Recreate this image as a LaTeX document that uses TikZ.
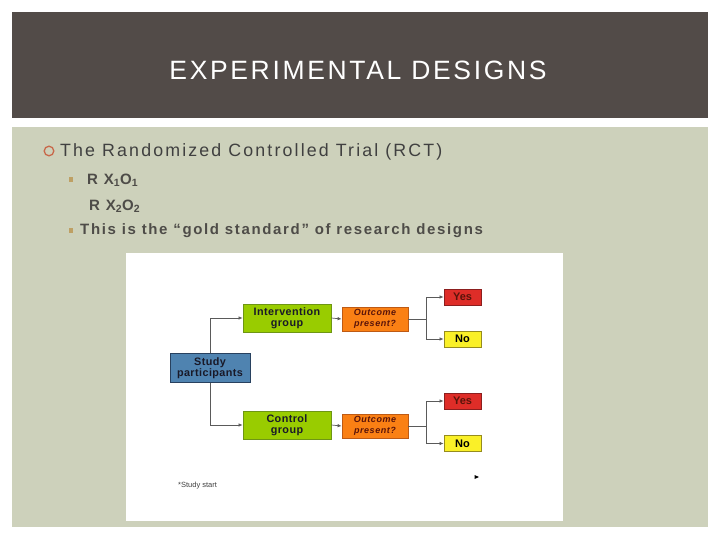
\documentclass[tikz,border=0pt]{standalone}
\usepackage{fontspec}
\setmainfont{Liberation Sans}
\newfontfamily\titlefont[LetterSpace=10]{Liberation Sans}
\newfontfamily\bodyfont[LetterSpace=12]{Liberation Sans}
\newfontfamily\subfont[LetterSpace=11]{Liberation Sans}
\newfontfamily\dfont[LetterSpace=4]{Liberation Sans}
\newfontfamily\ofont[LetterSpace=6]{Liberation Sans}
\usetikzlibrary{arrows.meta}
\definecolor{hdr}{RGB}{82,75,72}
\definecolor{content}{RGB}{205,209,187}
\definecolor{txt}{RGB}{64,64,64}
\definecolor{subtxt}{RGB}{78,76,72}
\definecolor{circbul}{RGB}{200,105,75}
\definecolor{sqbul}{RGB}{190,160,100}
\definecolor{bluebox}{RGB}{79,131,176}
\definecolor{blueedge}{RGB}{40,65,95}
\definecolor{greenbox}{RGB}{153,204,0}
\definecolor{greenedge}{RGB}{110,150,20}
\definecolor{orangebox}{RGB}{250,128,20}
\definecolor{orangeedge}{RGB}{190,90,20}
\definecolor{redbox}{RGB}{222,45,40}
\definecolor{rededge}{RGB}{140,30,30}
\definecolor{yellowbox}{RGB}{250,240,40}
\definecolor{yellowedge}{RGB}{150,140,30}
\definecolor{maroon}{RGB}{90,20,10}
\definecolor{boxtxt}{RGB}{25,25,40}
\definecolor{conn}{RGB}{90,90,90}
\begin{document}
\begin{tikzpicture}[x=1pt,y=-1pt,
  titlestyle/.style={text=white,font=\titlefont\fontsize{26.5}{30}\selectfont,inner sep=0},
  bodytext/.style={text=txt,anchor=west,inner sep=0,font=\bodyfont\fontsize{17.8}{20}\selectfont},
  subtext/.style={text=subtxt,anchor=west,inner sep=0,font=\subfont\bfseries\fontsize{15}{18}\selectfont},
  boxbase/.style={rectangle,line width=0.8pt,inner sep=0,align=center,
    font=\dfont\bfseries\fontsize{10.8}{11.5}\selectfont},
  studybox/.style={boxbase,fill=bluebox,draw=blueedge,minimum width=80,minimum height=29,text=boxtxt},
  groupbox/.style={boxbase,fill=greenbox,draw=greenedge,minimum width=88,minimum height=28,text=boxtxt},
  outbox/.style={boxbase,fill=orangebox,draw=orangeedge,minimum width=66,minimum height=24,text=maroon,
    font=\ofont\bfseries\itshape\fontsize{9}{10.5}\selectfont},
  yesbox/.style={boxbase,fill=redbox,draw=rededge,minimum width=37,minimum height=16,text=maroon,
    font=\bfseries\fontsize{11}{12}\selectfont},
  nobox/.style={boxbase,fill=yellowbox,draw=yellowedge,minimum width=37,minimum height=16,text=black,
    font=\bfseries\fontsize{11}{12}\selectfont},
  connector/.style={draw=conn,line width=0.7pt},
  arrowconn/.style={connector,-{Latex[length=4,width=3.5]}}
]
\useasboundingbox (0,0) rectangle (720,540);
\fill[white] (0,0) rectangle (720,540);
\fill[hdr] (12,12) rectangle (708,118);
\fill[content] (12,127) rectangle (708,527);
\node[titlestyle] (title) at (358,70) {EXPERIMENTAL DESIGNS};

% bullets
\draw[circbul,line width=1.3pt] (49,151) circle (4.8);
\node[bodytext] (rct) at (60,152) {The Randomized Controlled Trial (RCT)};
\fill[sqbul] (69,177) rectangle (73,182);
\node[subtext] (r1) at (87,180) {R X\textsubscript{1}O\textsubscript{1}};
\node[subtext] (r2) at (89,206) {R X\textsubscript{2}O\textsubscript{2}};
\fill[sqbul] (69,228) rectangle (73,233);
\node[subtext] (gold) at (80,231) {This is the “gold standard” of research designs};

% picture area
\fill[white] (126,253) rectangle (563,521);

\node[studybox] (study) at (210,368) {Study\\participants};
\node[groupbox] (interv) at (287,318) {Intervention\\group};
\node[groupbox] (control) at (287,425) {Control\\group};
\node[outbox] (out1) at (375,319) {Outcome\\present?};
\node[outbox] (out2) at (375,426) {Outcome\\present?};
\node[yesbox] (yes1) at (462.5,297) {Yes};
\node[nobox] (no1) at (462.5,339) {No};
\node[yesbox] (yes2) at (462.5,401) {Yes};
\node[nobox] (no2) at (462.5,443.5) {No};

\draw[arrowconn] (study.north) |- (interv.west);
\draw[arrowconn] (study.south) |- (control.west);
\draw[arrowconn] (interv.east) -- (out1.west);
\draw[arrowconn] (control.east) -- (out2.west);

\coordinate (b1) at (426,319);
\coordinate (b2) at (426,426);
\draw[connector] (out1.east) -- (b1);
\draw[arrowconn] (b1) |- (yes1.west);
\draw[arrowconn] (b1) |- (no1.west);
\draw[connector] (out2.east) -- (b2);
\draw[arrowconn] (b2) |- (yes2.west);
\draw[arrowconn] (b2) |- (no2.west);

\node[text=txt,anchor=west,inner sep=0,font=\fontsize{7.5}{8}\selectfont] (start) at (178,486) {*Study start};
\coordinate (stray) at (477,477);
\fill[black] (stray) ++(-2.5,-2) -- ++(4.5,2) -- ++(-4.5,2) -- cycle;
\end{tikzpicture}
\end{document}
